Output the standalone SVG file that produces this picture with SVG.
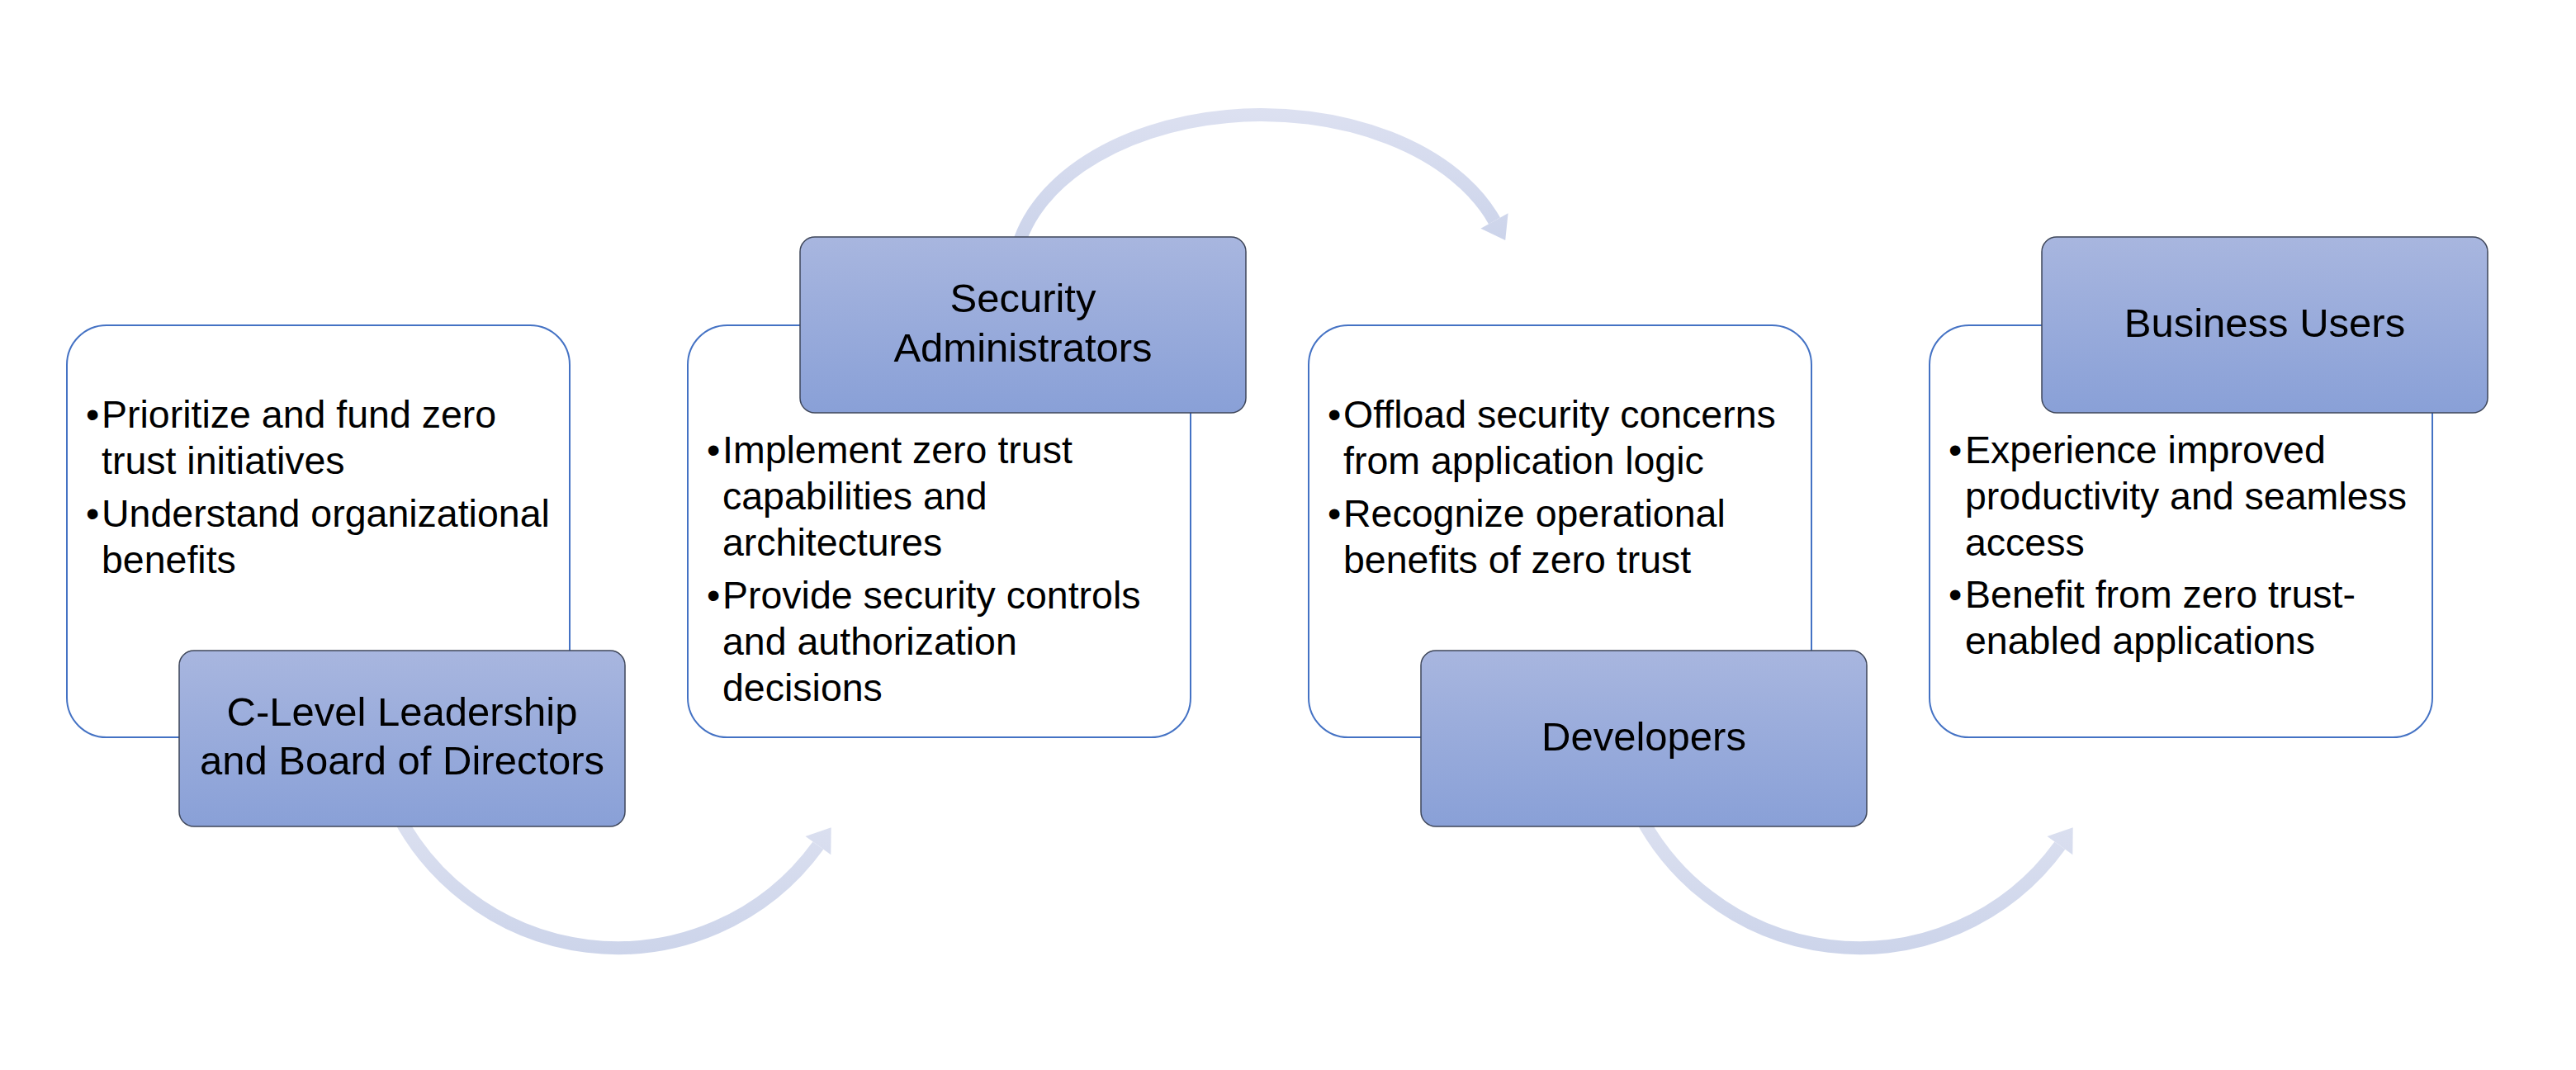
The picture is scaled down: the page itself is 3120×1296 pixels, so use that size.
<svg xmlns="http://www.w3.org/2000/svg" width="3120" height="1296" viewBox="0 0 3120 1296">
  <defs>
    <linearGradient id="boxGrad" x1="0" y1="0" x2="0" y2="1">
      <stop offset="0" stop-color="#A8B6DF"/>
      <stop offset="1" stop-color="#89A0D7"/>
    </linearGradient>
    <linearGradient id="arrowGradDown" gradientUnits="userSpaceOnUse" x1="0" y1="960" x2="0" y2="1160">
      <stop offset="0" stop-color="#DEE2F1"/>
      <stop offset="1" stop-color="#CCD4EA"/>
    </linearGradient>
    <linearGradient id="arrowGradUp" gradientUnits="userSpaceOnUse" x1="0" y1="125" x2="0" y2="300">
      <stop offset="0" stop-color="#DDE1F1"/>
      <stop offset="1" stop-color="#CBD3EA"/>
    </linearGradient>
  </defs>
  <style>
    .card { fill: #FFFFFF; stroke: #4472C4; stroke-width: 2; }
    .head { fill: url(#boxGrad); stroke: #3E4659; stroke-width: 1.5; }
    .body { font-family: "Liberation Sans", Arial, sans-serif; font-size: 46.5px; fill: #000000; }
    .title { font-family: "Liberation Sans", Arial, sans-serif; font-size: 49px; fill: #000000; text-anchor: middle; }
    .shaft { fill: none; stroke-width: 16; }
  </style>
  <rect width="3120" height="1296" fill="#FFFFFF"/>

  <!-- content cards -->
  <g id="card-clevel">
    <rect class="card" x="81" y="394" width="609" height="499" rx="48" ry="48"/>
    <text class="body" x="104" y="518">•</text>
    <text class="body" x="123" y="518">Prioritize and fund zero</text>
    <text class="body" x="123" y="574">trust initiatives</text>
    <text class="body" x="104" y="638">•</text>
    <text class="body" x="123" y="638">Understand organizational</text>
    <text class="body" x="123" y="694">benefits</text>
  </g>
  <g id="card-secadmin">
    <rect class="card" x="833" y="394" width="609" height="499" rx="48" ry="48"/>
    <text class="body" x="856" y="561">•</text>
    <text class="body" x="875" y="561">Implement zero trust</text>
    <text class="body" x="875" y="617">capabilities and</text>
    <text class="body" x="875" y="673">architectures</text>
    <text class="body" x="856" y="737">•</text>
    <text class="body" x="875" y="737">Provide security controls</text>
    <text class="body" x="875" y="793">and authorization</text>
    <text class="body" x="875" y="849">decisions</text>
  </g>
  <g id="card-developers">
    <rect class="card" x="1585" y="394" width="609" height="499" rx="48" ry="48"/>
    <text class="body" x="1608" y="518">•</text>
    <text class="body" x="1627" y="518">Offload security concerns</text>
    <text class="body" x="1627" y="574">from application logic</text>
    <text class="body" x="1608" y="638">•</text>
    <text class="body" x="1627" y="638">Recognize operational</text>
    <text class="body" x="1627" y="694">benefits of zero trust</text>
  </g>
  <g id="card-business">
    <rect class="card" x="2337" y="394" width="609" height="499" rx="48" ry="48"/>
    <text class="body" x="2360" y="561">•</text>
    <text class="body" x="2380" y="561">Experience improved</text>
    <text class="body" x="2380" y="617">productivity and seamless</text>
    <text class="body" x="2380" y="673">access</text>
    <text class="body" x="2360" y="736">•</text>
    <text class="body" x="2380" y="736">Benefit from zero trust-</text>
    <text class="body" x="2380" y="792">enabled applications</text>
  </g>

  <!-- connectors -->
  <g id="connectors">
    <g id="arrow-1">
      <path class="shaft" stroke="url(#arrowGradDown)" d="M 469.6 960 A 300 300 0 0 0 990.9 1024.1"/>
      <polygon fill="url(#arrowGradDown)" points="975.5,1012.9 1006.7,1002.2 1006.3,1035.3"/>
    </g>
    <g id="arrow-2">
      <path class="shaft" stroke="url(#arrowGradUp)" d="M 1228.8 320 A 300 195 0 0 1 1810 267.5"/>
      <polygon fill="url(#arrowGradUp)" points="1793.4,276.8 1823.2,291.1 1826.6,258.2"/>
    </g>
    <g id="arrow-3" transform="translate(1504,0)">
      <path class="shaft" stroke="url(#arrowGradDown)" d="M 469.6 960 A 300 300 0 0 0 990.9 1024.1"/>
      <polygon fill="url(#arrowGradDown)" points="975.5,1012.9 1006.7,1002.2 1006.3,1035.3"/>
    </g>
  </g>

  <!-- role header nodes -->
  <g id="node-clevel">
    <rect class="head" x="217" y="788" width="540" height="213" rx="18" ry="18"/>
    <text class="title" x="487" y="879">C-Level Leadership</text>
    <text class="title" x="487" y="938">and Board of Directors</text>
  </g>
  <g id="node-secadmin">
    <rect class="head" x="969" y="287" width="540" height="213" rx="18" ry="18"/>
    <text class="title" x="1239" y="378">Security</text>
    <text class="title" x="1239" y="438">Administrators</text>
  </g>
  <g id="node-developers">
    <rect class="head" x="1721" y="788" width="540" height="213" rx="18" ry="18"/>
    <text class="title" x="1991" y="909">Developers</text>
  </g>
  <g id="node-business">
    <rect class="head" x="2473" y="287" width="540" height="213" rx="18" ry="18"/>
    <text class="title" x="2743" y="408">Business Users</text>
  </g>
</svg>
